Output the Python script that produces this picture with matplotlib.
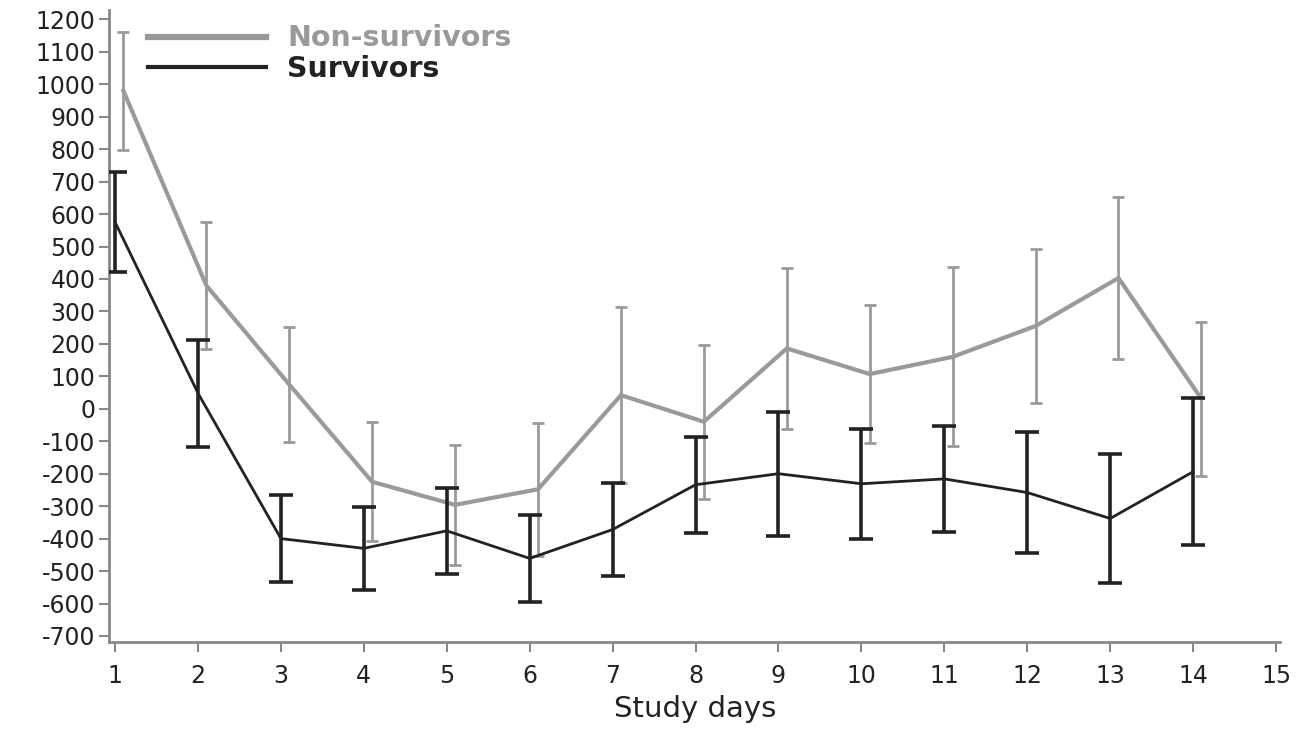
import matplotlib
matplotlib.use("Agg")
import matplotlib.pyplot as plt
from matplotlib.lines import Line2D
import numpy as np

plt.rcParams['font.family'] = ['DejaVu Sans']
plt.rcParams['axes.unicode_minus'] = False

days = [1, 2, 3, 4, 5, 6, 7, 8, 9, 10, 11, 12, 13, 14]
non_surv_mean = [980, 380, 75, -225, -296, -248, 42, -40, 186, 107, 160, 255, 403, 31]
non_surv_err = [182, 195, 178, 183, 185, 205, 272, 237, 248, 212, 276, 238, 250, 237]
surv_mean = [575, 48, -400, -430, -376, -461, -372, -234, -200, -231, -216, -258, -338, -194]
surv_err = [155, 165, 135, 127, 133, 133, 142, 148, 191, 169, 163, 187, 198, 226]
x_ticks = list(range(1, 16))
y_ticks = list(range(-700, 1201, 100))

grey = '#9a9a9a'
dark = '#222222'

fig = plt.figure(figsize=(13.01, 7.31), dpi=100)
ax = fig.add_axes([0.084, 0.122, 0.900, 0.864])

xs = np.array(days)
ax.errorbar(xs + 0.1, non_surv_mean, yerr=non_surv_err, color=grey, lw=3.0,
            elinewidth=2.0, capsize=4, capthick=2.0, zorder=2)
ax.errorbar(xs, surv_mean, yerr=surv_err, color=dark, lw=2.0,
            elinewidth=2.6, capsize=8.5, capthick=2.6, zorder=3)

ax.set_xlim(0.93, 15.05)
ax.set_ylim(-718, 1228)
ax.set_xticks(x_ticks)
ax.set_yticks(y_ticks)
ax.tick_params(axis='both', labelsize=17, colors='#888888', labelcolor='#222222',
               length=7, width=1.5)
ax.tick_params(axis='y', pad=3)
ax.tick_params(axis='x', pad=9)
for s in ['top', 'right']:
    ax.spines[s].set_visible(False)
for s in ['left', 'bottom']:
    ax.spines[s].set_color('#888888')
    ax.spines[s].set_linewidth(2)

ax.set_xlabel('Study days', fontsize=21, color='#222222', labelpad=5)

handles = [Line2D([], [], color=grey, lw=4.5), Line2D([], [], color=dark, lw=3)]
leg = ax.legend(handles, ['Non-survivors', 'Survivors'], loc='upper left',
                bbox_to_anchor=(0.011, 1.018), frameon=False,
                handlelength=4.15, handletextpad=0.75, labelspacing=0.1,
                prop={'weight': 'bold', 'size': 20.5})
texts = leg.get_texts()
texts[0].set_color(grey)
texts[1].set_color(dark)

fig.savefig('out.png', dpi=100)
